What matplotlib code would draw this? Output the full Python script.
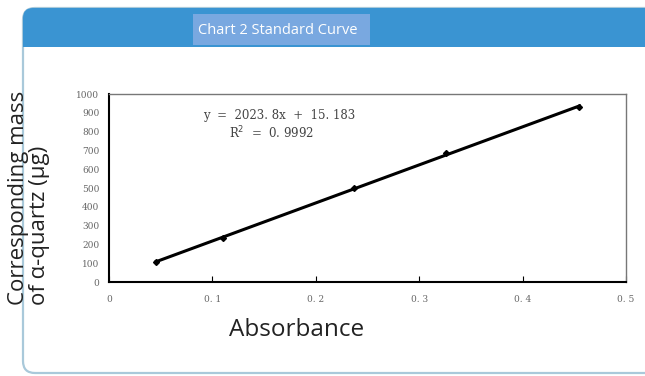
import numpy as np
import matplotlib.pyplot as plt
from matplotlib.patches import FancyBboxPatch, Rectangle
from matplotlib.transforms import IdentityTransform

absorbance = [0.0455, 0.110, 0.237, 0.326, 0.455]
mass = [107, 234, 498, 686, 929]
x_ticks = [0, 0.1, 0.2, 0.3, 0.4, 0.5]
x_tick_labels = ["0", "0. 1", "0. 2", "0. 3", "0. 4", "0. 5"]
y_ticks = list(range(0, 1001, 100))
title = "Chart 2 Standard Curve"
eq_text = "y  =  2023. 8x  +  15. 183"
r2_text = "R$^2$  =  0. 9992"

W, H = 645, 376
fig = plt.figure(figsize=(W / 100, H / 100), dpi=100)
fig.patch.set_facecolor("white")

px = IdentityTransform()

###panel with rounded corners
panel = FancyBboxPatch((23, 3), 660, 365, boxstyle="round,pad=0,rounding_size=12",
                       transform=px, facecolor="white", edgecolor="#a9c9da", lw=1.6, zorder=-3)
fig.patches.append(panel)
header = FancyBboxPatch((23, 329), 660, 39, boxstyle="round,pad=0,rounding_size=10",
                        transform=px, facecolor="#3a94d2", edgecolor="none", zorder=-2)
fig.patches.append(header)
fig.patches.append(Rectangle((23, 329), 660, 15, transform=px, facecolor="#3a94d2",
                             edgecolor="none", zorder=-2))
fig.patches.append(Rectangle((193, 331), 177, 31, transform=px, facecolor="#79a8e0",
                             edgecolor="none", zorder=-1))
fig.text(278 / W, 1 - 31 / H, title, color="white", fontsize=10.5, family="Open Sans",
         ha="center", va="center", zorder=3)

###plot
ax = fig.add_axes([109 / W, 1 - 282 / H, (626 - 109) / W, (282 - 94) / H])
ax.set_zorder(5)
ax.patch.set_alpha(0)
k, b = np.polyfit(absorbance, mass, 1)
xs = np.array([min(absorbance), max(absorbance)])
ax.plot(xs, k * xs + b, color="black", lw=2.2)
ax.plot(absorbance, mass, "D", color="black", ms=3)

ax.set_xlim(0, 0.5)
ax.set_ylim(0, 1000)
ax.set_xticks(x_ticks)
ax.set_xticklabels(x_tick_labels)
ax.set_yticks(y_ticks)
ax.tick_params(axis="x", direction="in", length=4, pad=9, labelsize=6.5, labelcolor="#666666")
ax.tick_params(axis="y", direction="in", length=0, pad=7, labelsize=6.5, labelcolor="#666666")
for lbl in ax.get_xticklabels() + ax.get_yticklabels():
    lbl.set_family("DejaVu Serif")
for s in ["top", "right"]:
    ax.spines[s].set_color("#777777")
    ax.spines[s].set_linewidth(1)
for s in ["bottom", "left"]:
    ax.spines[s].set_color("black")
    ax.spines[s].set_linewidth(1.5)

ax.text(0.165, 885, eq_text, fontsize=8.5, family="DejaVu Serif", color="#444444",
        ha="center", va="center")
ax.text(0.157, 790, r2_text, fontsize=8.5, family="DejaVu Serif", color="#444444",
        ha="center", va="center")

###axis labels
fig.text(297 / W, 1 - 330 / H, "Absorbance", fontsize=17.5, family="Open Sans",
         color="#222222", ha="center", va="center", zorder=6)
fig.text(29 / W, 1 - 305 / H, "Corresponding mass\nof α-quartz (μg)", fontsize=16,
         family="Open Sans", color="#222222", rotation=90, ha="center", va="bottom",
         multialignment="left", linespacing=0.95, zorder=6)

fig.savefig("out.png", dpi=100)
